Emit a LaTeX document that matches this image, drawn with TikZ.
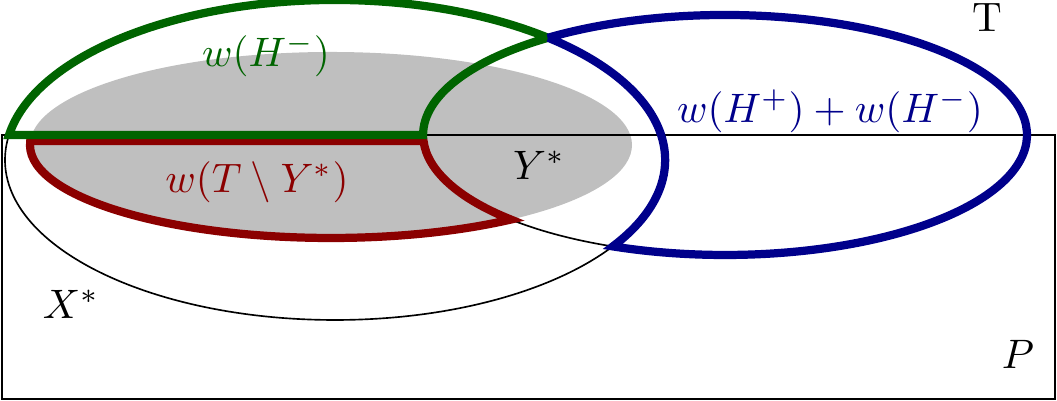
\documentclass[tikz,border=0pt]{standalone}

\definecolor{hgreen}{RGB}{0,100,0}
\definecolor{hblue}{RGB}{0,0,139}
\definecolor{hred}{RGB}{139,0,0}

\tikzset{
    bound/.style={line width=2pt},
}

\begin{document}
\begin{tikzpicture}[x=0.854cm, y=0.854cm]
    \useasboundingbox (0,0) rectangle (10.57,4.01);

    % 椭圆中心
    \coordinate (cA) at (3.35,2.41);   % X*
    \coordinate (cB) at (7.25,2.66);   % H
    \coordinate (cY) at (3.31,2.56);   % Y*

    % -------------------------------
    % 背景：Y* 与 P
    % -------------------------------
    \fill[gray!50] (cY) ellipse [x radius=3.01, y radius=0.93];
    \draw (0.02,0.02) rectangle (10.55,2.66);

    % 细边界
    \draw (cA) ellipse [x radius=3.3, y radius=1.6];
    \draw (cB) ellipse [x radius=3.02, y radius=1.2];

    % -------------------------------
    % 粗边界
    % -------------------------------
    % T \ Y*
    \draw[hred, bound] (cY) ++(177.5:3.01 and 0.93)
        arc[start angle=177.5, end angle=306.7, x radius=3.01, y radius=0.93]
        arc[start angle=224.8, end angle=182.9, x radius=3.02, y radius=1.2]
        -- cycle;
    % H^-
    \draw[hgreen, bound] (cA) ++(171:3.3 and 1.6)
        arc[start angle=171, end angle=49.8, x radius=3.3, y radius=1.6]
        arc[start angle=125.9, end angle=180, x radius=3.02, y radius=1.2]
        -- cycle;
    % H^+ 与 H^-
    \draw[hblue, bound] (cB) ++(125.9:3.02 and 1.2)
        arc[start angle=125.9, end angle=-111.8, x radius=3.02, y radius=1.2]
        arc[start angle=-32.7, end angle=49.8, x radius=3.3, y radius=1.6]
        -- cycle;

    % -------------------------------
    % 标签
    % -------------------------------
    \node[hgreen] (hminus) at (2.66,3.46) {$w(H^-)$};
    \node[hred] (tminusy) at (2.57,2.19) {$w(T \setminus Y^*)$};
    \node[hblue] (hsum) at (8.30,2.90) {$w(H^+) + w(H^-)$};
    \node (ystar) at (5.39,2.36) {$Y^*$};
    \node (xstar) at (0.71,0.97) {$X^*$};
    \node (tlabel) at (9.87,3.83) {T};
    \node (plabel) at (10.18,0.47) {$P$};

\end{tikzpicture}
\end{document}
